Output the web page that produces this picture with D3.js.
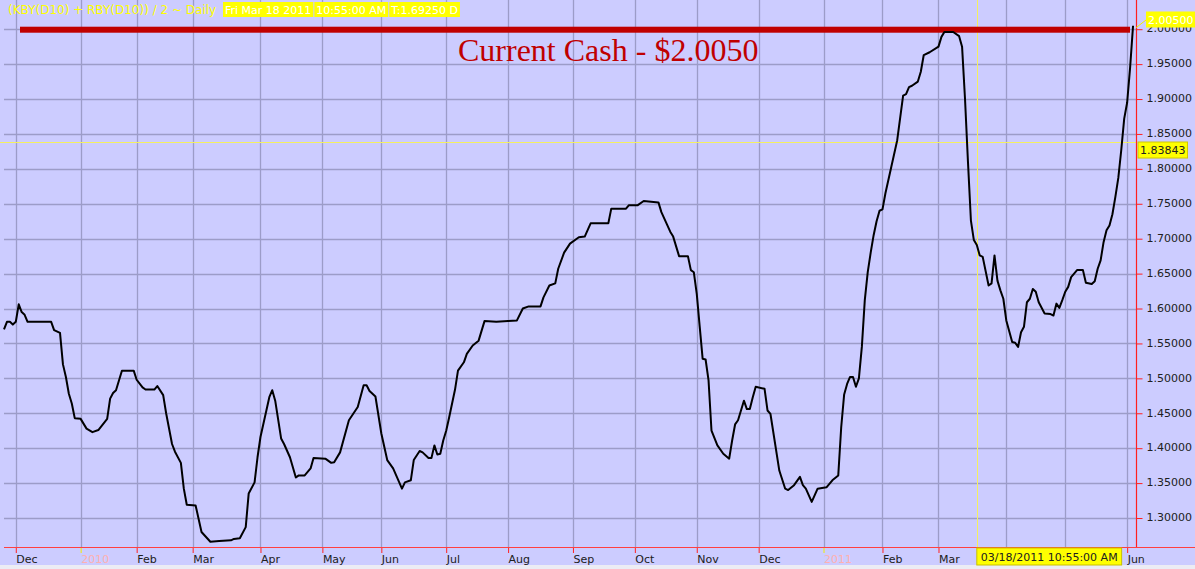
<!DOCTYPE html>
<html>
<head>
<meta charset="utf-8">
<script src="https://cdn.jsdelivr.net/npm/d3@7"></script>
<style>
  html, body { margin: 0; padding: 0; background: #ccccff; }
  svg { display: block; }
  text { font-family: "DejaVu Sans", Tahoma, sans-serif; }
</style>
</head>
<body>
<div id="chart"></div>
<script>
// trading-day index (0 = last days of Nov 2009) and spread value
const days = [0, 1, 2, 3, 4, 5, 6, 7, 8, 16, 17, 19, 20, 21, 22, 23, 24, 26, 28, 30, 32, 35, 36, 37, 38, 40, 44, 45, 47, 48, 51, 52, 54, 55, 57, 58, 60, 61, 62, 65, 67, 70, 73, 77, 78, 80, 82, 83, 85, 86, 87, 89, 90, 91, 92, 94, 95, 97, 99, 100, 102, 104, 105, 109, 111, 112, 114, 117, 120, 122, 123, 124, 126, 128, 130, 132, 135, 136, 138, 139, 141, 142, 144, 145, 146, 147, 148, 149, 150, 151, 153, 154, 156, 157, 159, 161, 163, 167, 171, 174, 176, 178, 182, 183, 185, 187, 188, 190, 192, 195, 197, 199, 205, 206, 211, 212, 215, 217, 222, 223, 226, 227, 229, 232, 233, 234, 235, 236, 237, 238, 239, 240, 242, 244, 246, 247, 248, 249, 251, 252, 253, 254, 255, 258, 259, 260, 263, 265, 266, 268, 270, 271, 272, 274, 276, 279, 281, 283, 284, 285, 286, 287, 288, 289, 290, 291, 292, 293, 294, 295, 296, 297, 298, 299, 301, 303, 305, 306, 307, 308, 310, 311, 312, 314, 317, 318, 319, 322, 324, 325, 326, 327, 328, 329, 330, 331, 332, 334, 335, 336, 337, 338, 339, 340, 342, 343, 344, 345, 346, 347, 348, 349, 350, 351, 353, 355, 356, 357, 358, 359, 360, 361, 362, 364, 366, 367, 369, 370, 371, 372, 373, 374, 375, 376, 377, 378, 379, 380, 381, 382, 383];
const values = [1.570, 1.581, 1.581, 1.577, 1.581, 1.606, 1.595, 1.591, 1.581, 1.581, 1.569, 1.565, 1.520, 1.502, 1.478, 1.464, 1.443, 1.442, 1.428, 1.423, 1.426, 1.442, 1.471, 1.479, 1.483, 1.511, 1.511, 1.498, 1.487, 1.484, 1.484, 1.489, 1.476, 1.450, 1.406, 1.395, 1.379, 1.342, 1.319, 1.318, 1.280, 1.266, 1.267, 1.268, 1.270, 1.271, 1.287, 1.335, 1.351, 1.387, 1.416, 1.454, 1.473, 1.483, 1.468, 1.414, 1.406, 1.387, 1.358, 1.361, 1.361, 1.371, 1.386, 1.385, 1.379, 1.380, 1.394, 1.440, 1.459, 1.490, 1.490, 1.482, 1.474, 1.421, 1.383, 1.371, 1.342, 1.351, 1.354, 1.383, 1.396, 1.394, 1.386, 1.386, 1.404, 1.391, 1.392, 1.411, 1.425, 1.444, 1.484, 1.511, 1.523, 1.535, 1.547, 1.554, 1.582, 1.581, 1.582, 1.583, 1.600, 1.603, 1.603, 1.616, 1.633, 1.636, 1.657, 1.680, 1.693, 1.702, 1.703, 1.722, 1.722, 1.743, 1.743, 1.748, 1.748, 1.754, 1.752, 1.738, 1.710, 1.703, 1.675, 1.675, 1.655, 1.652, 1.621, 1.574, 1.528, 1.527, 1.497, 1.425, 1.404, 1.392, 1.385, 1.411, 1.434, 1.440, 1.468, 1.456, 1.456, 1.473, 1.488, 1.485, 1.454, 1.449, 1.368, 1.342, 1.340, 1.347, 1.359, 1.347, 1.342, 1.323, 1.342, 1.344, 1.354, 1.361, 1.430, 1.477, 1.492, 1.502, 1.502, 1.488, 1.500, 1.545, 1.612, 1.652, 1.680, 1.705, 1.725, 1.740, 1.742, 1.765, 1.803, 1.841, 1.905, 1.907, 1.917, 1.919, 1.925, 1.939, 1.963, 1.967, 1.975, 1.989, 1.996, 1.996, 1.990, 1.975, 1.900, 1.810, 1.726, 1.698, 1.691, 1.676, 1.674, 1.633, 1.636, 1.676, 1.640, 1.626, 1.614, 1.583, 1.552, 1.551, 1.545, 1.566, 1.574, 1.609, 1.614, 1.628, 1.624, 1.609, 1.593, 1.592, 1.590, 1.607, 1.601, 1.612, 1.624, 1.631, 1.645, 1.655, 1.655, 1.637, 1.635, 1.639, 1.657, 1.669, 1.695, 1.712, 1.719, 1.735, 1.760, 1.787, 1.827, 1.872, 1.895, 1.945, 2.005];

// month boundaries on the trading-day axis
const monthDays = [4, 26, 45, 64, 87, 108, 128, 150, 171, 193, 214, 235, 256, 278, 298, 317, 340, 360, 381];
const monthLabels = ['Dec', '2010', 'Feb', 'Mar', 'Apr', 'May', 'Jun', 'Jul', 'Aug', 'Sep', 'Oct', 'Nov', 'Dec', '2011', 'Feb', 'Mar', 'Apr', 'May', 'Jun'];
const yTicks = [1.30, 1.35, 1.40, 1.45, 1.50, 1.55, 1.60, 1.65, 1.70, 1.75, 1.80, 1.85, 1.90, 1.95, 2.00];

const titleText = '(KBY(D10) + RBY(D10)) / 2 ~ Daily';
const headerTags = ['Fri Mar 18 2011', '10:55:00 AM', 'T:1.69250 D'];
const cursorDay = 330;
const cursorLabel = '03/18/2011 10:55:00 AM';
const lastPrice = 1.83843;
const cashValue = 2.005;
const cashText = 'Current Cash - $2.0050';

const width = 1195;
const height = 569;
const plot = { left: 4, right: 1136, top: 0, bottom: 547 };

const svg = d3.select('#chart').append('svg').attr('width', width).attr('height', height);

const x = d3.scaleLinear().domain([0, 384]).range([plot.left, plot.right]);
const y = d3.scaleLinear().domain([1.2585, 2.0]).range([plot.bottom, 29.2]);

const isYear = i => /^\d{4}$/.test(monthLabels[i]);

// background
svg.append('rect').attr('width', width).attr('height', height).attr('fill', '#ccccff');
svg.append('rect').attr('x', 0).attr('y', 565).attr('width', width).attr('height', 4).attr('fill', '#ececf4');

// grid
const grid = svg.append('g');
grid
  .selectAll('line.v')
  .data(monthDays)
  .enter()
  .append('line')
  .attr('x1', d => Math.round(x(d)) + 0.5)
  .attr('x2', d => Math.round(x(d)) + 0.5)
  .attr('y1', plot.top)
  .attr('y2', plot.bottom)
  .style('stroke', '#9c9cc8')
  .style('stroke-width', 1.3);
grid
  .selectAll('line.h')
  .data(yTicks)
  .enter()
  .append('line')
  .attr('x1', plot.left)
  .attr('x2', plot.right)
  .attr('y1', d => Math.round(y(d)) + 0.5)
  .attr('y2', d => Math.round(y(d)) + 0.5)
  .style('stroke', '#9c9cc8')
  .style('stroke-width', 1.3);

// last price + cursor lines (yellow)
svg
  .append('line')
  .attr('x1', 0)
  .attr('x2', plot.right)
  .attr('y1', Math.round(y(lastPrice)) + 0.5)
  .attr('y2', Math.round(y(lastPrice)) + 0.5)
  .style('stroke', '#f4f060')
  .style('stroke-width', 1);
svg
  .append('line')
  .attr('x1', Math.round(x(cursorDay)) + 0.5)
  .attr('x2', Math.round(x(cursorDay)) + 0.5)
  .attr('y1', plot.top)
  .attr('y2', plot.bottom)
  .style('stroke', '#f4f060')
  .style('stroke-width', 1);

// cash bar
svg
  .append('rect')
  .attr('x', 20)
  .attr('width', 1110)
  .attr('y', y(cashValue) + 1)
  .attr('height', 6)
  .attr('fill', '#c00000');

// price line
const line = d3
  .line()
  .x((d, i) => x(days[i]))
  .y(d => y(d));
svg
  .append('path')
  .datum(values)
  .attr('d', line)
  .attr('fill', 'none')
  .style('stroke', '#000')
  .style('stroke-width', 2)
  .style('stroke-linejoin', 'round');

svg
  .append('text')
  .attr('x', 458)
  .attr('y', 61)
  .text(cashText)
  .style('font-family', '"Liberation Serif", "Times New Roman", serif')
  .style('font-size', '32px')
  .style('fill', '#c00000');

// right axis
const yAxis = d3
  .axisRight(y)
  .tickValues(yTicks)
  .tickFormat(d3.format('.5f'))
  .tickSize(6)
  .tickSizeOuter(0)
  .tickPadding(4);
const ya = svg.append('g').attr('transform', `translate(${plot.right + 0.5},0)`).call(yAxis);
ya.select('.domain').remove();
ya.selectAll('.tick line').style('stroke', '#ff2020');
ya.selectAll('.tick text').style('font-size', '11px').style('fill', '#202020').attr('dy', '0.25em');
svg
  .append('line')
  .attr('x1', plot.right + 0.5)
  .attr('x2', plot.right + 0.5)
  .attr('y1', 0)
  .attr('y2', plot.bottom)
  .style('stroke', '#ff2020')
  .style('stroke-width', 1.2);

// bottom axis; labels under the cursor box are not shown
const cursorBoxEnd = x(cursorDay) + 143;
const xAxis = d3
  .axisBottom(x)
  .tickValues(monthDays)
  .tickFormat((d, i) => (x(d) > x(cursorDay) && x(d) < cursorBoxEnd ? '' : monthLabels[i]))
  .tickSize(6)
  .tickSizeOuter(0)
  .tickPadding(2);
const xa = svg.append('g').attr('transform', `translate(0,${plot.bottom})`).call(xAxis);
xa.select('.domain').remove();
xa.selectAll('.tick line').style('stroke', (d, i) => (isYear(i) ? '#f0f000' : '#ff2020'));
xa.selectAll('.tick text')
  .attr('text-anchor', 'start')
  .attr('x', 0)
  .style('font-size', '11px')
  .style('fill', (d, i) => (isYear(i) ? '#ffb0b0' : '#202020'));
svg
  .append('line')
  .attr('x1', plot.left)
  .attr('x2', width)
  .attr('y1', plot.bottom + 0.5)
  .attr('y2', plot.bottom + 0.5)
  .style('stroke', '#ff4040')
  .style('stroke-width', 1.2);

// title + header tags
svg
  .append('text')
  .attr('x', 8)
  .attr('y', 14)
  .text(titleText)
  .style('font-size', '12px')
  .style('fill', '#ffff00');
let tagX = 223;
headerTags.forEach(t => {
  const g = svg.append('g');
  const r = g.append('rect').attr('y', 2).attr('height', 15).attr('fill', '#ffff00');
  const tx = g
    .append('text')
    .attr('x', tagX + 2)
    .attr('y', 14)
    .text(t)
    .style('font-size', '11px')
    .style('fill', '#ffffff');
  const w = tx.node().getComputedTextLength() + 4;
  r.attr('x', tagX).attr('width', w);
  tagX += w + 1;
});

// value flags on the right axis
function flag(v, left, yMid, textColor, border) {
  const g = svg.append('g');
  const r = g
    .append('rect')
    .attr('x', left)
    .attr('y', yMid - 8)
    .attr('height', 16)
    .attr('fill', '#ffff00')
    .style('stroke', border);
  const t = g
    .append('text')
    .attr('x', left + 2)
    .attr('y', yMid + 4)
    .text(d3.format('.5f')(v))
    .style('font-size', '11px')
    .style('fill', textColor);
  r.attr('width', t.node().getComputedTextLength() + 4);
}
flag(lastPrice, 1138, y(lastPrice) + 8, '#202020', '#d0c800');
svg
  .append('line')
  .attr('x1', plot.right)
  .attr('y1', y(cashValue) + 2)
  .attr('x2', 1146)
  .attr('y2', 20)
  .style('stroke', '#f0f000')
  .style('stroke-width', 1);
flag(cashValue, 1146, 19.5, '#ffffff', 'none');

// cursor date box on the bottom axis
const cb = svg.append('g');
const cbr = cb
  .append('rect')
  .attr('x', x(cursorDay))
  .attr('y', 548)
  .attr('height', 17)
  .attr('fill', '#ffff00')
  .style('stroke', '#c8c000');
const cbt = cb
  .append('text')
  .attr('x', x(cursorDay) + 4)
  .attr('y', 561)
  .text(cursorLabel)
  .style('font-size', '11px')
  .style('fill', '#202020');
cbr.attr('width', cbt.node().getComputedTextLength() + 8);
</script>
</body>
</html>
